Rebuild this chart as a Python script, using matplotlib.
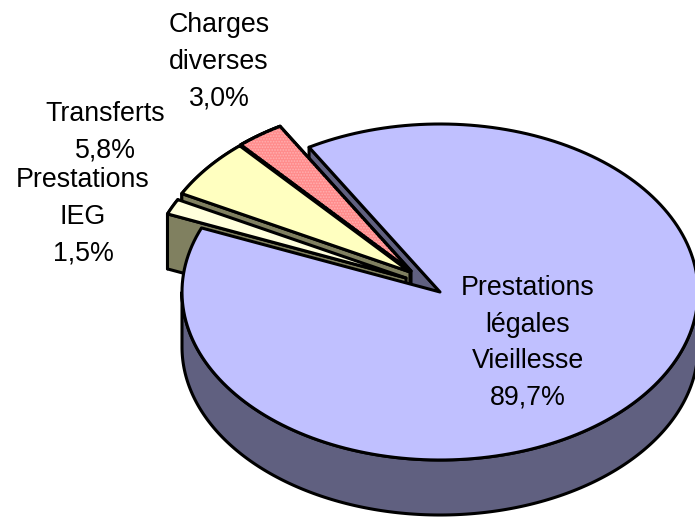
import numpy as np
import matplotlib
matplotlib.use("Agg")
import matplotlib.pyplot as plt
from matplotlib.patches import Polygon

plt.rcParams['font.family'] = ['Liberation Sans', 'DejaVu Sans']
plt.rcParams['hatch.linewidth'] = 0.8

# shares in % going clockwise from the top
labels = ["Charges\ndiverses\n3,0%", "Transferts\n5,8%", "Prestations\nIEG\n1,5%",
          "Prestations\nlégales\nVieillesse\n89,7%"]
values = [3.0, 5.8, 1.5, 89.7]

### pie geometry in pixels, y measured from the top
W, H = 695, 517
a, b = 258, 168
depth = 55
start = 120.5
apex = [(411, 271), (410, 272), (406, 278), (440, 292)]
top_col = ["#FF8C8C", "#FFFFC0", "#FFFFDC", "#C0C0FF"]
wall_col = ["#804646", "#808060", "#808060", "#606080"]
label_pos = [(219, 62), (105, 132.5), (83, 217), (528, 343)]

fig = plt.figure(figsize=(W / 100, H / 100), dpi=100)
ax = fig.add_axes([0, 0, 1, 1])
ax.set_xlim(0, W)
ax.set_ylim(H, 0)
ax.axis("off")

def arc(cx, cy, t0, t1, dy=0):
    t = np.radians(np.linspace(t0, t1, 200))
    return np.c_[cx + a * np.cos(t), cy - b * np.sin(t) + dy]

def poly(pts, fc, hatch=None, z=1):
    ax.add_patch(Polygon(pts, closed=True, facecolor=fc, edgecolor="black",
                         linewidth=2.2, joinstyle="round", zorder=z))
    if hatch:
        ax.add_patch(Polygon(pts, closed=True, facecolor="none", edgecolor=hatch,
                             hatch="......", linewidth=0, zorder=z))
        ax.add_patch(Polygon(pts, closed=True, facecolor="none", edgecolor="black",
                             linewidth=2.2, joinstyle="round", zorder=z))

# angle of every slice, clockwise from the start angle
ends = start + np.cumsum(values) * 3.6
begins = np.r_[start, ends[:-1]]

### main slice: outer rim and the cut face first
cx, cy = apex[3]
main_t0 = begins[3] - 360
rim_top = arc(cx, cy, 180, 360)
rim_low = arc(cx, cy, 360, 180, depth)
poly(np.r_[rim_top, rim_low], wall_col[3], z=1)
edge = arc(cx, cy, start, start)[0]
poly([(cx, cy), edge, (edge[0], edge[1] + depth), (cx, cy + depth)], wall_col[3], z=2)

### the three pulled out slices, back to front
for i in range(3):
    cx, cy = apex[i]
    t0, t1 = begins[i], ends[i]
    top = np.r_[[(cx, cy)], arc(cx, cy, t0, t1)]
    inner = arc(cx, cy, t1, t1)[0]
    face = np.r_[arc(cx, cy, t0, t1), arc(cx, cy, t1, t0, depth)]
    poly(face, wall_col[i], z=3 + i)
    poly([(cx, cy), inner, (inner[0], inner[1] + depth), (cx, cy + depth)], wall_col[i], z=3 + i)
    poly(top, top_col[i], hatch="#FFB0B0" if i == 0 else None, z=3 + i)

### top of the main slice covers the walls of the others
cx, cy = apex[3]
poly(np.r_[[(cx, cy)], arc(cx, cy, main_t0 + 360, start + 360)], top_col[3], z=7)

for (x, y), txt in zip(label_pos, labels):
    ax.text(x, y, txt, ha="center", va="center", fontsize=19.3,
            linespacing=1.53, color="black", zorder=10)

fig.savefig("out.png", dpi=100)
